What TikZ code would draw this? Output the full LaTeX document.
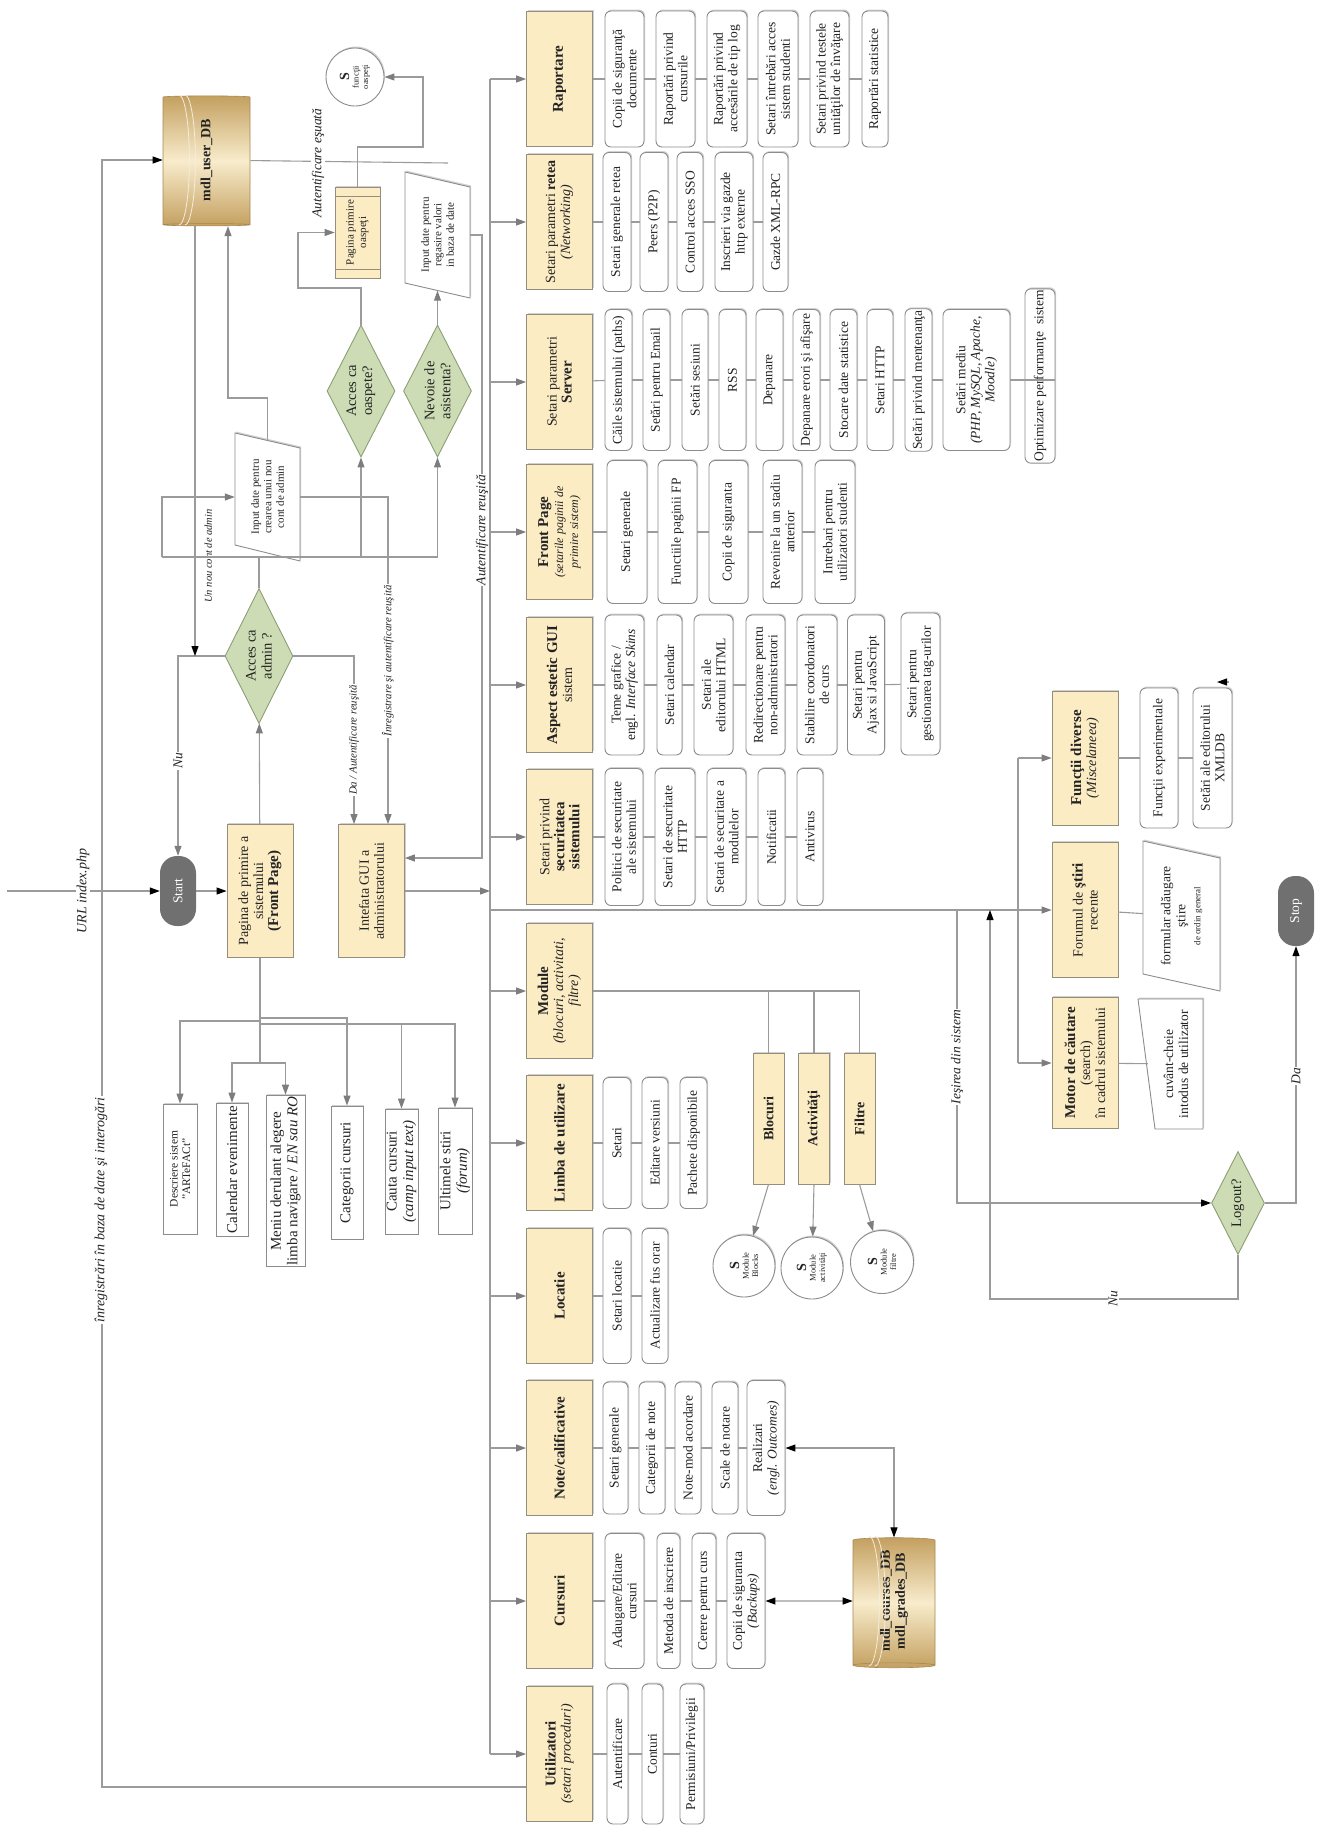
\documentclass[tikz,border=0pt]{standalone}
\usepackage{fontspec}
\setmainfont{Liberation Serif}
\usetikzlibrary{arrows.meta,shapes.geometric,shadows,calc}

\definecolor{catY}{RGB}{252,236,196}
\definecolor{catB}{RGB}{150,142,125}
\definecolor{lineG}{RGB}{155,155,155}
\definecolor{tipG}{RGB}{125,125,125}
\definecolor{boxB}{RGB}{140,140,140}
\definecolor{decG}{RGB}{205,220,180}
\definecolor{decB}{RGB}{140,158,118}
\definecolor{termG}{RGB}{112,112,112}
\definecolor{dbD}{RGB}{196,160,96}
\definecolor{dbL}{RGB}{248,236,204}
\definecolor{txt}{RGB}{35,35,35}

\newcommand\cattitle[1]{{\fontsize{15}{16.5}\selectfont\textbf{#1}}}

\tikzset{
  base/.style={rotate=90, align=center, inner sep=1.5pt, text=txt},
  shd/.style={drop shadow={shadow xshift=1pt, shadow yshift=1.5pt, opacity=0.3, fill=black!60}},
  catbox/.style={base, rectangle, draw=catB, fill=catY, line width=0.8pt,
    minimum width=135, minimum height=66, shd, font=\fontsize{14}{15}\selectfont},
  modbox/.style={base, rectangle, draw=catB, fill=catY, line width=0.8pt,
    minimum width=131, minimum height=31, shd, font=\fontsize{14}{15}\selectfont},
  subbox/.style={base, rectangle, rounded corners=6pt, draw=boxB, fill=white,
    line width=0.9pt, shd, font=\fontsize{13.5}{14.5}\selectfont},
  sb/.style 2 args={subbox, minimum width=#1, minimum height=#2},
  sqbox/.style 2 args={base, rectangle, draw=boxB, fill=white, line width=0.9pt, shd,
    minimum width=#1, minimum height=#2, font=\fontsize{15}{16.5}\selectfont},
  deci/.style={base, diamond, aspect=2, draw=decB, fill=decG, line width=0.9pt, inner sep=0pt,
    font=\fontsize{14.5}{16}\selectfont},
  term/.style={base, rectangle, rounded corners=17pt, fill=termG, text=white,
    minimum width=70, minimum height=36, font=\fontsize{13.5}{14}\selectfont},
  db/.style={base, cylinder, shape border rotate=180, aspect=0.16, draw=dbD!85!black,
    line width=0.6pt, top color=dbD, bottom color=dbD, middle color=dbL,
    font=\bfseries\fontsize{14}{15}\selectfont},
  disc/.style={draw=white!80!dbD, line width=0.8pt},
  sc/.style={base, circle, draw=boxB, fill=white, line width=0.9pt, inner sep=0pt,
    shd, font=\fontsize{8.5}{9.5}\selectfont},
  txtonly/.style={base, inner sep=0pt, font=\fontsize{11}{12.5}\selectfont},
  lbl/.style={base, fill=white, inner sep=1pt, font=\itshape\fontsize{13.5}{14.5}\selectfont},
  conn/.style={draw=lineG, line width=1.1pt},
  arr/.style={conn, -{Triangle[length=10pt,width=7pt,color=tipG]}},
  arrK/.style={conn, -{Triangle[length=10pt,width=7pt,color=black]}},
  arrKK/.style={conn, {Triangle[length=10pt,width=7pt,color=black]}-{Triangle[length=10pt,width=7pt,color=black]}},
  para/.style={draw=boxB, fill=white, line width=0.9pt, shd},
}

\begin{document}
\begin{tikzpicture}[x=1pt,y=-1pt]
\useasboundingbox (0,0) rectangle (1319,1832);

% ---------------- main categories ----------------
\node[catbox] (rap) at (559.5,79)   {\cattitle{Raportare}};
\node[catbox] (ret) at (559.5,222)  {Setari parametri \textbf{retea}\\\textit{(Networking)}};
\node[catbox] (srv) at (559.5,382)  {Setari parametri\\\cattitle{Server}};
\node[catbox] (frp) at (559.5,532)  {\cattitle{Front Page}\\{\fontsize{12}{13}\selectfont\textit{(setarile paginii de}}\\{\fontsize{12}{13}\selectfont\textit{primire sistem)}}};
\node[catbox] (asp) at (559.5,685)  {\cattitle{Aspect estetic GUI}\\sistem};
\node[catbox] (sec) at (559.5,837)  {Setari privind\\\cattitle{securitatea}\\\cattitle{sistemului}};
\node[catbox] (mdl) at (559.5,991)  {\cattitle{Module}\\\textit{(blocuri, activitati,}\\\textit{filtre)}};
\node[catbox] (lim) at (559.5,1143) {\cattitle{Limba de utilizare}};
\node[catbox] (loc) at (559.5,1296) {\cattitle{Locatie}};
\node[catbox] (nte) at (559.5,1448) {\cattitle{Note/calificative}};
\node[catbox] (cur) at (559.5,1601) {\cattitle{Cursuri}};
\node[catbox] (uti) at (559.5,1754) {\cattitle{Utilizatori}\\\textit{(setari proceduri)}};

% ---------------- Raportare ----------------
\node[sb={136}{39}] (r1) at (624.5,79) {Copii de siguranţă\\documente};
\node[sb={136}{39}] (r2) at (675.5,79) {Raportări privind\\cursurile};
\node[sb={136}{40}] (r3) at (727,79)   {Raportări privind\\accesările de tip log};
\node[sb={136}{40}] (r4) at (778,79)   {Setari întrebări acces\\sistem studenti};
\node[sb={136}{39}] (r5) at (829.5,79) {Setari privind testele\\unităţilor de învăţare};
\node[sb={136}{26}] (r6) at (875,79)   {Raportări statistice};

% ---------------- Retea ----------------
\node[sb={139}{28}] (n1) at (617,222)   {Setari generale retea};
\node[sb={139}{28}] (n2) at (654,222)   {Peers (P2P)};
\node[sb={139}{26}] (n3) at (690,222)   {Control acces SSO};
\node[sb={139}{38}] (n4) at (734,222)   {Inscrieri via gazde\\http externe};
\node[sb={139}{25}] (n5) at (775.5,222) {Gazde XML-RPC};

% ---------------- Server ----------------
\node[sb={141}{27}] (s1) at (618.5,380) {Căile sistemului (paths)};
\node[sb={141}{27}] (s2) at (656.5,380) {Setări pentru Email};
\node[sb={141}{26}] (s3) at (695,380)   {Setări sesiuni};
\node[sb={141}{27}] (s4) at (732.5,380) {RSS};
\node[sb={141}{27}] (s5) at (769.5,380) {Depanare};
\node[sb={141}{27}] (s6) at (806.5,380) {Depanare erori şi afişare};
\node[sb={141}{27}] (s7) at (843.5,380) {Stocare date statistice};
\node[sb={141}{26}] (s8) at (880,380)   {Setari HTTP};
\node[sb={141}{27}] (s9) at (918.5,380) {Setări privind mentenanţa};
\node[sb={141}{67}] (s10) at (976.5,380) {Setări mediu\\\textit{(PHP, MySQL, Apache,}\\\textit{Moodle)}};
\node[sb={169}{30}] (s11) at (1040,376) {Optimizare performanţe\ \ sistem};

% ---------------- Front Page ----------------
\node[sb={143}{40}] (f1) at (627,532)   {Setari generale};
\node[sb={143}{39}] (f2) at (677.5,532) {Functiile paginii FP};
\node[sb={143}{39}] (f3) at (728.5,532) {Copii de siguranta};
\node[sb={143}{39}] (f4) at (782.5,532) {Revenire la un stadiu\\anterior};
\node[sb={143}{40}] (f5) at (835,532)   {Intrebari pentru\\utilizatori studenti};

% ---------------- Aspect ----------------
\node[sb={140}{39}] (a1) at (624.5,685) {Teme grafice /\\engl. \textit{Interface Skins}};
\node[sb={140}{25}] (a2) at (669.5,685) {Setari calendar};
\node[sb={140}{39}] (a3) at (713.5,685) {Setari ale\\editorului HTML};
\node[sb={140}{39}] (a4) at (765.5,685) {Redirectionare pentru\\non-administratori};
\node[sb={140}{40}] (a5) at (817,685)   {Stabilire coordonatori\\de curs};
\node[sb={140}{37}] (a6) at (866,685)   {Setari pentru\\Ajax si JavaScript};
\node[sb={142}{39}] (a7) at (920.5,684) {Setari pentru\\gestionarea tag-urilor};

% ---------------- Securitate ----------------
\node[sb={137}{38}] (c1) at (624,837)   {Politici de securitate\\ale sistemului};
\node[sb={137}{40}] (c2) at (675,837)   {Setari de securitate\\HTTP};
\node[sb={137}{39}] (c3) at (726.5,837) {Setari de securitate a\\modulelor};
\node[sb={137}{27}] (c4) at (771.5,837) {Notificatii};
\node[sb={137}{26}] (c5) at (810,837)   {Antivirus};

% ---------------- Module ----------------
\node[modbox] (blc) at (768.5,1118.5) {\textbf{Blocuri}};
\node[modbox] (act) at (814,1118.5)   {\textbf{Activităţi}};
\node[modbox] (flt) at (859.5,1118.5) {\textbf{Filtre}};
\node[sc, minimum size=62] (cb) at (744,1266) {{\fontsize{14}{14}\selectfont\textbf{S}}\\Module\\Blocks};
\node[sc, minimum size=62] (ca) at (812,1268) {{\fontsize{14}{14}\selectfont\textbf{S}}\\Module\\activităţi};
\node[sc, minimum size=63] (cf) at (882,1262) {{\fontsize{14}{14}\selectfont\textbf{S}}\\Module\\filtre};

% ---------------- Limba / Locatie ----------------
\node[sb={131}{28}] (l1) at (617,1143)   {Setari};
\node[sb={131}{26}] (l2) at (655,1143)   {Editare versiuni};
\node[sb={131}{27}] (l3) at (693.5,1143) {Pachete disponibile};
\node[sb={135}{28}] (o1) at (617,1296)   {Setari locatie};
\node[sb={135}{26}] (o2) at (655,1296)   {Actualizare fus orar};

% ---------------- Note ----------------
\node[sb={132}{25}] (t1) at (615.5,1448) {Setari generale};
\node[sb={132}{26}] (t2) at (652,1448)   {Categorii de note};
\node[sb={132}{26}] (t3) at (688,1448)   {Note-mod acordare};
\node[sb={132}{26}] (t4) at (725,1448)   {Scale de notare};
\node[sb={135}{38}] (t5) at (766,1448)   {Realizari\\\textit{(engl. Outcomes)}};

% ---------------- Cursuri ----------------
\node[sb={135}{39}] (u1) at (624.5,1601) {Adaugare/Editare\\cursuri};
\node[sb={135}{23}] (u2) at (668.5,1601) {Metoda de inscriere};
\node[sb={135}{24}] (u3) at (704,1601)   {Cerere pentru curs};
\node[sb={135}{38}] (u4) at (746,1601)   {Copii de siguranta\\\textit{(Backups)}};

% ---------------- Utilizatori ----------------
\node[sb={140}{21}] (z1) at (617.5,1754) {Autentificare};
\node[sb={140}{21}] (z2) at (652.5,1754) {Conturi};
\node[sb={140}{24}] (z3) at (692,1754)   {Permisiuni/Privilegii};

% ---------------- databases ----------------
\node[db, minimum width=87, minimum height=130] (udb) at (206.5,160) {mdl\_user\_DB};
\draw[disc] (179,95) arc[start angle=-90, end angle=90, x radius=10.4, y radius=65];
\draw[disc] (185,95) arc[start angle=-90, end angle=90, x radius=10.4, y radius=65];
\node[db, minimum width=82, minimum height=130] (cdb) at (894,1601) {mdl\_courses\_DB\\mdl\_grades\_DB};
\draw[disc] (869,1536) arc[start angle=-90, end angle=90, x radius=10.4, y radius=65];
\draw[disc] (875,1536) arc[start angle=-90, end angle=90, x radius=10.4, y radius=65];

% ---------------- entry flow ----------------
\node[term] (start) at (178,891) {Start};
\node[catbox, minimum width=133] (fp)  at (260,891) {Pagina de primire a\\sistemului\\\cattitle{(Front Page)}};
\node[catbox, minimum width=133] (gui) at (371.5,891) {Intefata GUI a\\administratorului};
\node[deci, minimum width=135, minimum height=68] (adm) at (259,656) {Acces ca\\admin ?};
\node[deci, minimum width=132, minimum height=68] (gd) at (361,391) {Acces ca\\oaspete?};
\node[deci, minimum width=132, minimum height=68] (hd) at (437.5,391) {Nevoie de\\asistenta?};

% input (slanted) shapes
\draw[para] (235,433) -- (300,448) -- (300,561) -- (235,545) -- cycle;
\node[txtonly, minimum width=114, minimum height=65] (nacc) at (267.5,497) {Input date pentru\\crearea unui nou\\cont de admin};
\draw[para] (405,172) -- (470,187) -- (470,298) -- (405,283) -- cycle;
\node[txtonly, minimum width=111, minimum height=65] (rv) at (437.5,235) {Input date pentru\\regasire valori\\in baza de date};

% guest page (predefined process) and guest functions
\node[catbox, minimum width=91, minimum height=45, font=\fontsize{11}{12.5}\selectfont] (gp) at (357.5,232.5) {Pagina primire\\oaspeţi};
\draw[catB, line width=0.7pt] (335,196) -- (380,196) (335,269) -- (380,269);
\node[sc, minimum size=58] (cg) at (355,77) {{\fontsize{14}{14}\selectfont\textbf{S}}\\funcţii\\oaspeţi};

% ---------------- left panel of the front page ----------------
\node[sqbox={130}{34}, font=\fontsize{11.5}{12.5}\selectfont] (desc) at (180,1169) {Descriere sistem\\"ARTeFACt"};
\node[sqbox={133}{32}] (cal) at (232,1169.5) {Calendar evenimente};
\node[sqbox={160}{39}] (menu) at (285.5,1181) {Meniu derulant alegere\\limba navigare / \textit{EN sau RO}};
\node[sqbox={133}{32}] (catc) at (347,1172.5) {Categorii cursuri};
\node[sqbox={125}{33}] (cauta) at (401.5,1171.5) {Cauta cursuri\\\textit{(camp input text)}};
\node[sqbox={126}{34}] (ult) at (455,1171) {Ultimele stiri\\\textit{(forum)}};

% ---------------- lower right ----------------
\node[catbox, minimum width=134] (misc) at (1085,758) {\cattitle{Funcţii diverse}\\\textit{(Miscelaneea)}};
\node[catbox, minimum width=135] (forum) at (1085,910) {Forumul de \cattitle{ştiri}\\recente};
\node[catbox, minimum width=131] (motor) at (1085,1063) {\cattitle{Motor de căutare}\\(search)\\în cadrul sistemului};
\node[sb={140}{38}] (fexp) at (1159,758) {Funcţii experimentale};
\node[sb={140}{39}] (xml) at (1212.5,758) {Setări ale editorului\\XMLDB};
\draw[para] (1143,841) -- (1220,858) -- (1220,991) -- (1143,974) -- cycle;
\node[txtonly, minimum width=133, minimum height=77, font=\fontsize{13.5}{15}\selectfont] (form) at (1181.5,916) {formular adăugare\\ştire\\{\fontsize{9}{10}\selectfont de ordin general}};
\draw[para] (1138,999) -- (1203,999) -- (1203,1129) -- (1155,1129) -- cycle;
\node[txtonly, minimum width=130, minimum height=56, font=\fontsize{13.5}{15}\selectfont] (kw) at (1176,1064) {cuvânt-cheie\\intodus de utilizator};
\node[deci, minimum width=103, minimum height=53] (logout) at (1238,1203) {Logout?};
\node[term] (stop) at (1296,911) {Stop};

% ---------------- helper coordinates ----------------
\coordinate (bus) at (490,0);
\coordinate (urlin) at (7,891);
\coordinate (dbl) at (102,1787);
\coordinate (unx) at (195,0);
\coordinate (dax) at (354,0);
\coordinate (regx) at (388,0);
\coordinate (j1) at (162,557);
\coordinate (j2) at (437.5,557);
\coordinate (nq) at (228,398);
\coordinate (aut) at (482,858);
\coordinate (gc) at (298,288);
\coordinate (gq) at (423,147);
\coordinate (fail) at (448,163);
\coordinate (fx) at (1018,0);
\coordinate (iex) at (957,0);
\coordinate (nuc) at (990,1299);
\coordinate (ty0) at (0,1018);
\coordinate (ty1) at (0,1021);
\coordinate (ty2) at (0,1024);
\coordinate (ty3) at (0,1063);
\coordinate (stray) at (1229,682);

% ---------------- connectors ----------------
% bus to the categories
\draw[conn] (bus |- rap) -- (bus |- uti);
\foreach \c in {rap,ret,srv,frp,asp,sec,mdl,lim,loc,nte,cur,uti}
  \draw[arr] (bus |- \c) -- (\c);

% chains of settings
\foreach \a/\b in {rap/r1,r1/r2,r2/r3,r3/r4,r4/r5,r5/r6,
                   ret/n1,n1/n2,n2/n3,n3/n4,n4/n5,
                   srv/s1,s1/s2,s2/s3,s3/s4,s4/s5,s5/s6,s6/s7,s7/s8,s8/s9,s9/s10,
                   frp/f1,f1/f2,f2/f3,f3/f4,f4/f5,
                   asp/a1,a1/a2,a2/a3,a3/a4,a4/a5,a5/a6,a6/a7,
                   sec/c1,c1/c2,c2/c3,c3/c4,c4/c5,
                   lim/l1,l1/l2,l2/l3,
                   loc/o1,o1/o2,
                   nte/t1,t1/t2,t2/t3,t3/t4,t4/t5,
                   cur/u1,u1/u2,u2/u3,u3/u4,
                   uti/z1,z1/z2,z2/z3,
                   misc/fexp,fexp/xml,forum/form,motor/kw}
  \draw[conn] (\a) -- (\b);
\draw[conn] (s10) -- (s10 -| s11.south);

% modules
\draw[conn] (mdl) -- (mdl -| flt);
\foreach \m in {blc,act,flt} \draw[conn] (mdl -| \m) -- (\m);
\draw[arr] (blc.west) -- (cb);
\draw[arr] (act.west) -- (ca);
\draw[arr] (flt.west) -- (cf);

% databases
\draw[arrKK] (u4) -- (cdb);
\draw[arrKK] (t5) -| (cdb);
\draw[arrK] (uti.north |- dbl) -- (dbl) |- (udb);
\node[lbl, font=\itshape\fontsize{14}{15}\selectfont] at (101,1210) {înregistrări în baza de date şi interogări};

% start and front page
\draw[arrK] (urlin) -- (start);
\node[lbl, font=\itshape\fontsize{14}{15}\selectfont] at (83,891) {URL index.php};
\draw[arrK] (start) -- (fp);
\draw[arr] (fp) -- (adm);
\draw[arr] (adm) -| (start);
\node[lbl] at (178,761) {Nu};
\draw[arr] (adm) -| (dax |- gui.east);
\node[lbl, font=\itshape\fontsize{10.8}{12}\selectfont] at (354,740) {Da / Autentificare reuşită};
\draw[arrK] (unx |- udb.west) -- (unx |- adm);
\node[base, font=\itshape\fontsize{10.5}{11.5}\selectfont, anchor=north] at (203,556) {Un nou cont de admin};

% admin account creation loop
\draw[conn] (adm) -- (adm |- j1);
\draw[conn] (j1) -- (j2);
\draw[arr] (j1) |- (nacc);
\draw[arr] (nacc) -| (regx |- gui.east);
\node[lbl, font=\itshape\fontsize{10.8}{12}\selectfont] at (388,661) {Înregistrare şi autentificare reuşită};
\draw[arr] (nacc.east) |- (nq) -- (nq |- udb.west);
\draw[arr] (gd |- j1) -- (gd);
\draw[arr] (hd |- j1) -- (hd);

% guest access
\draw[arr] (gd.east) |- (gc) |- (gp);
\draw[arr] (gp.east) |- (gq) |- (cg);
\draw[conn] (udb) -- (fail);
\node[lbl] at (318,163) {Autentificare eşuată};

% assistance
\draw[arr] (hd) -- (rv);
\draw[arr] (rv) -| (aut) -- (aut -| gui.south);
\node[lbl] at (482,530) {Autentificare reuşită};

% administrator interface to the bus
\draw[arr] (gui) -- (bus |- gui);
\draw[arr] (bus |- forum) -- (forum);

% left panel of the front page
\draw[conn] (fp.west) -- (fp.west |- ty3);
\draw[arr] (fp.west |- ty1) -| (desc);
\draw[arr] (fp.west |- ty0) -| (catc);
\draw[arr] (fp.west |- ty2) -| (ult);
\draw[arr] (cauta |- ty2) -- (cauta);
\draw[arr] (fp.west |- ty3) -| (cal);
\draw[arr] (fp.west |- ty3) -| (menu);

% lower right functions
\draw[conn] (fx |- misc) -- (fx |- motor);
\draw[arr] (fx |- misc) -- (misc);
\draw[arr] (fx |- motor) -- (motor);
\draw[arrK] (stray) -- ++(-12,0);

% exit and logout
\draw[arrK] (iex |- forum) |- (logout);
\node[lbl] at (957,1057) {Ieşirea din sistem};
\draw[arrK] (logout) -| (stop);
\node[lbl] at (1296,1076) {Da};
\draw[arrK] (logout.west) |- (nuc) -- (nuc |- forum);
\node[lbl] at (1113,1299) {Nu};
\end{tikzpicture}
\end{document}
